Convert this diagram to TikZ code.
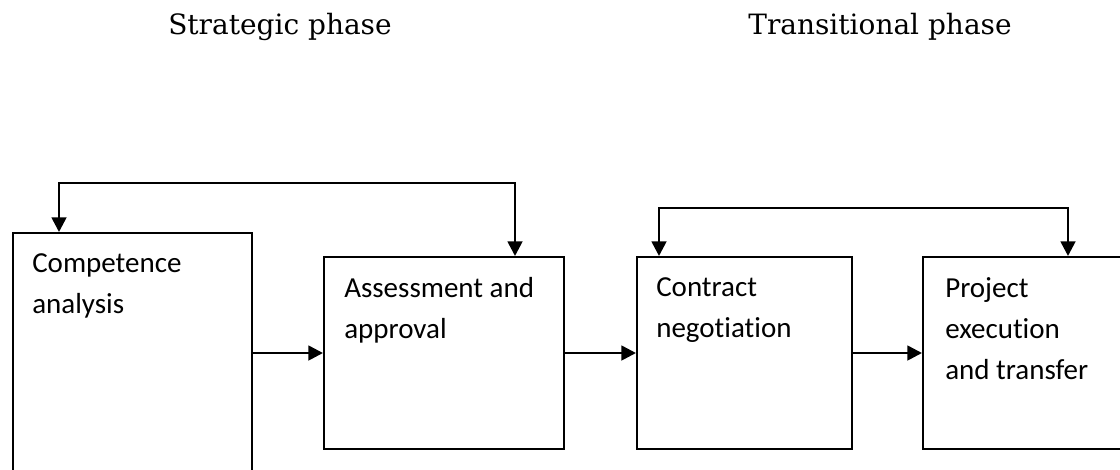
\documentclass[tikz,border=0pt]{standalone}
\usepackage{fontspec}
\newfontfamily\boxfont[Ligatures=NoCommon]{Carlito}
\newfontfamily\titlefont{DejaVu Serif}
\usetikzlibrary{arrows.meta}

\begin{document}
\begin{tikzpicture}[x=0.75pt,y=-0.75pt,
box/.style={draw,line width=1.5pt,inner sep=0pt,anchor=north west,minimum height=144pt},
txt/.style={anchor=north west,align=left,inner sep=0pt,font=\boxfont\fontsize{21.75}{30.75}\selectfont},
phasetitle/.style={anchor=base,font=\titlefont\fontsize{21}{25}\selectfont},
fwd/.style={line width=2pt,-{Triangle[length=11pt,width=11pt]}},
back/.style={line width=2pt,{Triangle[length=11pt,width=11pt]}-{Triangle[length=11pt,width=11pt]}}]
\useasboundingbox(0,0)rectangle(1120,469);
\clip(0,0)rectangle(1120,469);
% phase titles
\node[phasetitle](strat)at(280,34){Strategic phase};
\node[phasetitle](trans)at(880,34){Transitional phase};
% boxes
\node[box,minimum width=179.25pt,minimum height=186pt](comp)at(12,232){};
\node[box,minimum width=180pt](assess)at(323,256){};
\node[box,minimum width=161.25pt](contr)at(636,256){};
\node[box,minimum width=163.5pt](proj)at(922,256){};
\node[txt](tcomp)at(32,253){Competence\\analysis};
\node[txt](tassess)at(344,277){Assessment and\\approval};
\node[txt](tcontr)at(656,277){Contract\\negotiation};
\node[txt](tproj)at(945,277){Project\\execution\\and transfer};
% flow
\draw[fwd](comp.east|-assess.west)--(assess.west);
\foreach\a/\b in{assess/contr,contr/proj}{\draw[fwd](\a.east)--(\b.west);}
% feedback
\draw[back]([xshift=144pt]assess.north west)--++(0,-73)-|([xshift=35.25pt]comp.north west);
\draw[back]([xshift=17.25pt]contr.north west)--++(0,-48)-|([xshift=109.5pt]proj.north west);
\end{tikzpicture}
\end{document}
